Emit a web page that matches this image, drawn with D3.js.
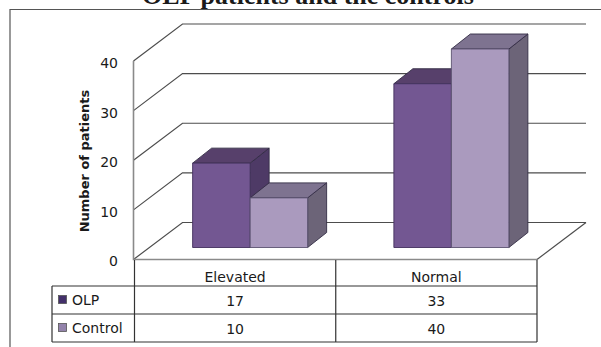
<!DOCTYPE html>
<html>
<head>
<meta charset="utf-8">
<style>
  html, body { margin: 0; padding: 0; background: #fff; }
  svg { display: block; }
  text { fill: #1a1a1a; }
</style>
<script src="https://cdn.jsdelivr.net/npm/d3@7"></script>
</head>
<body>
<div id="chart"></div>
<script>
// Patient counts per category, one list per series
const categories = ["Elevated", "Normal"];
const seriesNames = ["OLP", "Control"];
const olpValues = [17, 33];
const controlValues = [10, 40];
const yTicks = [0, 10, 20, 30, 40];
const titleText = "OLP patients and the controls";
const yAxisTitle = "Number of patients";

const frontFaces = ["#735792", "#aa9abe"];
const topFaces = ["#57406b", "#7e7390"];
const sideFaces = ["#4e3a66", "#6c6478"];
const edgeColors = ["#43305e", "#5b5270"];
const keyColors = ["#43306a", "#9383ab"];

const width = 601, height = 347;
const svg = d3.select("#chart").append("svg").attr("width", width).attr("height", height);

// Oblique projection: the floor recedes up and to the right
const wallDx = 49, wallDy = 37;
const barDepthDx = 19, barDepthDy = 15;
const barInsetDx = 15, barInsetDy = 12;

const x = d3.scaleBand().domain(categories).range([134.5, 537]);
const y = d3.scaleLinear().domain([0, 40]).range([259.5, 61]);
const inner = d3.scaleBand().domain(seriesNames).range([0, 115]);
const barOffset = (x.bandwidth() - inner.bandwidth() * 2) / 2;

// Chart frame, cut off by the page on the right and bottom
svg.append("path")
  .attr("d", `M10,${height + 2}V9.5H${width + 2}`)
  .attr("fill", "none").attr("stroke", "#555").attr("stroke-width", 1.2);

svg.append("text")
  .attr("x", 308).attr("y", 4)
  .attr("text-anchor", "middle")
  .attr("font-family", "Liberation Serif")
  .attr("font-weight", "bold")
  .attr("font-size", 26)
  .text(titleText);

// Walls and floor
const plot = svg.append("g").attr("fill", "none");
const x0 = x.range()[0], x1 = x.range()[1];
yTicks.forEach(t => {
  plot.append("path")
    .attr("d", `M${x0 - 1},${y(t)}L${x0 - 1 + wallDx},${y(t) - wallDy}H${x1 + wallDx}`)
    .attr("stroke", "#4d4d4d").attr("stroke-width", 1.2);
});
plot.append("path")
  .attr("d", `M${x1},${y(0)}L${x1 + wallDx},${y(0) - wallDy}`)
  .attr("stroke", "#4d4d4d").attr("stroke-width", 1.2);
plot.append("path")
  .attr("d", `M${x0 - 1},${y(40)}V${y(0)}H${x1}`)
  .attr("stroke", "#8a8a8a").attr("stroke-width", 1.6);

// Bars, each drawn as front, top and side faces
const barData = seriesNames.flatMap((name, s) =>
  categories.map((cat, c) => ({
    cat, name, s,
    value: (s === 0 ? olpValues : controlValues)[c]
  })));
const bars = svg.append("g").selectAll("g").data(barData).join("g")
  .attr("stroke-width", 0.9)
  .attr("stroke-linejoin", "round");
const bx0 = d => x(d.cat) + barOffset + inner(d.name) + barInsetDx;
const bx1 = d => bx0(d) + inner.bandwidth();
const by0 = () => y(0) - barInsetDy;
const byT = d => y(d.value) - barInsetDy;

bars.append("path")
  .attr("d", d => `M${bx1(d)},${by0()}V${byT(d)}l${barDepthDx},${-barDepthDy}V${by0() - barDepthDy}Z`)
  .attr("fill", d => sideFaces[d.s]).attr("stroke", "#332c45");
bars.append("path")
  .attr("d", d => `M${bx0(d)},${byT(d)}H${bx1(d)}l${barDepthDx},${-barDepthDy}H${bx0(d) + barDepthDx}Z`)
  .attr("fill", d => topFaces[d.s]).attr("stroke", "#332c45");
bars.append("rect")
  .attr("x", bx0).attr("y", byT)
  .attr("width", inner.bandwidth())
  .attr("height", d => by0() - byT(d))
  .attr("fill", d => frontFaces[d.s]).attr("stroke", d => edgeColors[d.s]);

// Value axis labels
const axis = svg.append("g")
  .attr("transform", "translate(123,2)")
  .call(d3.axisLeft(y).tickValues(yTicks).tickSize(0).tickPadding(5));
axis.select(".domain").remove();
axis.selectAll("text")
  .attr("font-family", "DejaVu Sans").attr("font-size", 14).attr("fill", "#1a1a1a");

svg.append("text")
  .attr("transform", "translate(89,161) rotate(-90)")
  .attr("text-anchor", "middle")
  .attr("font-family", "DejaVu Sans")
  .attr("font-weight", "bold")
  .attr("font-size", 13)
  .text(yAxisTitle);

// Data table beneath the plot
const rowY = [260, 286, 314, 342];
const tableX = [52, x0, x(categories[1]), x1];
const grid = svg.append("g").attr("stroke", "#333").attr("stroke-width", 1.2).attr("fill", "none");
grid.append("path").attr("d", `M${tableX[0]},${rowY[1]}H${x1}M${tableX[0]},${rowY[2]}H${x1}M${tableX[0]},${rowY[3]}H${x1}`);
grid.append("path").attr("d", `M${tableX[0]},${rowY[1]}V${rowY[3]}M${tableX[1]},${rowY[0]}V${rowY[3]}M${tableX[2]},${rowY[0]}V${rowY[3]}M${tableX[3]},${rowY[0]}V${rowY[3]}`);

const tableFont = sel => sel
  .attr("font-family", "DejaVu Sans").attr("font-size", 14).attr("fill", "#1a1a1a");

categories.forEach((cat, c) => {
  const cx = x(cat) + x.bandwidth() / 2;
  svg.append("text").attr("x", cx).attr("y", 281.5).attr("text-anchor", "middle").call(tableFont).text(cat);
  svg.append("text").attr("x", cx).attr("y", 306).attr("text-anchor", "middle").call(tableFont).text(olpValues[c]);
  svg.append("text").attr("x", cx).attr("y", 334).attr("text-anchor", "middle").call(tableFont).text(controlValues[c]);
});
seriesNames.forEach((name, s) => {
  const cy = (rowY[s + 1] + rowY[s + 2]) / 2;
  svg.append("rect")
    .attr("x", 58.5).attr("y", cy - 4.5).attr("width", 8).attr("height", 8)
    .attr("fill", keyColors[s]).attr("stroke", "#555").attr("stroke-width", 0.8);
  svg.append("text").attr("x", 72).attr("y", cy + 5).call(tableFont).text(name);
});
</script>
</body>
</html>
